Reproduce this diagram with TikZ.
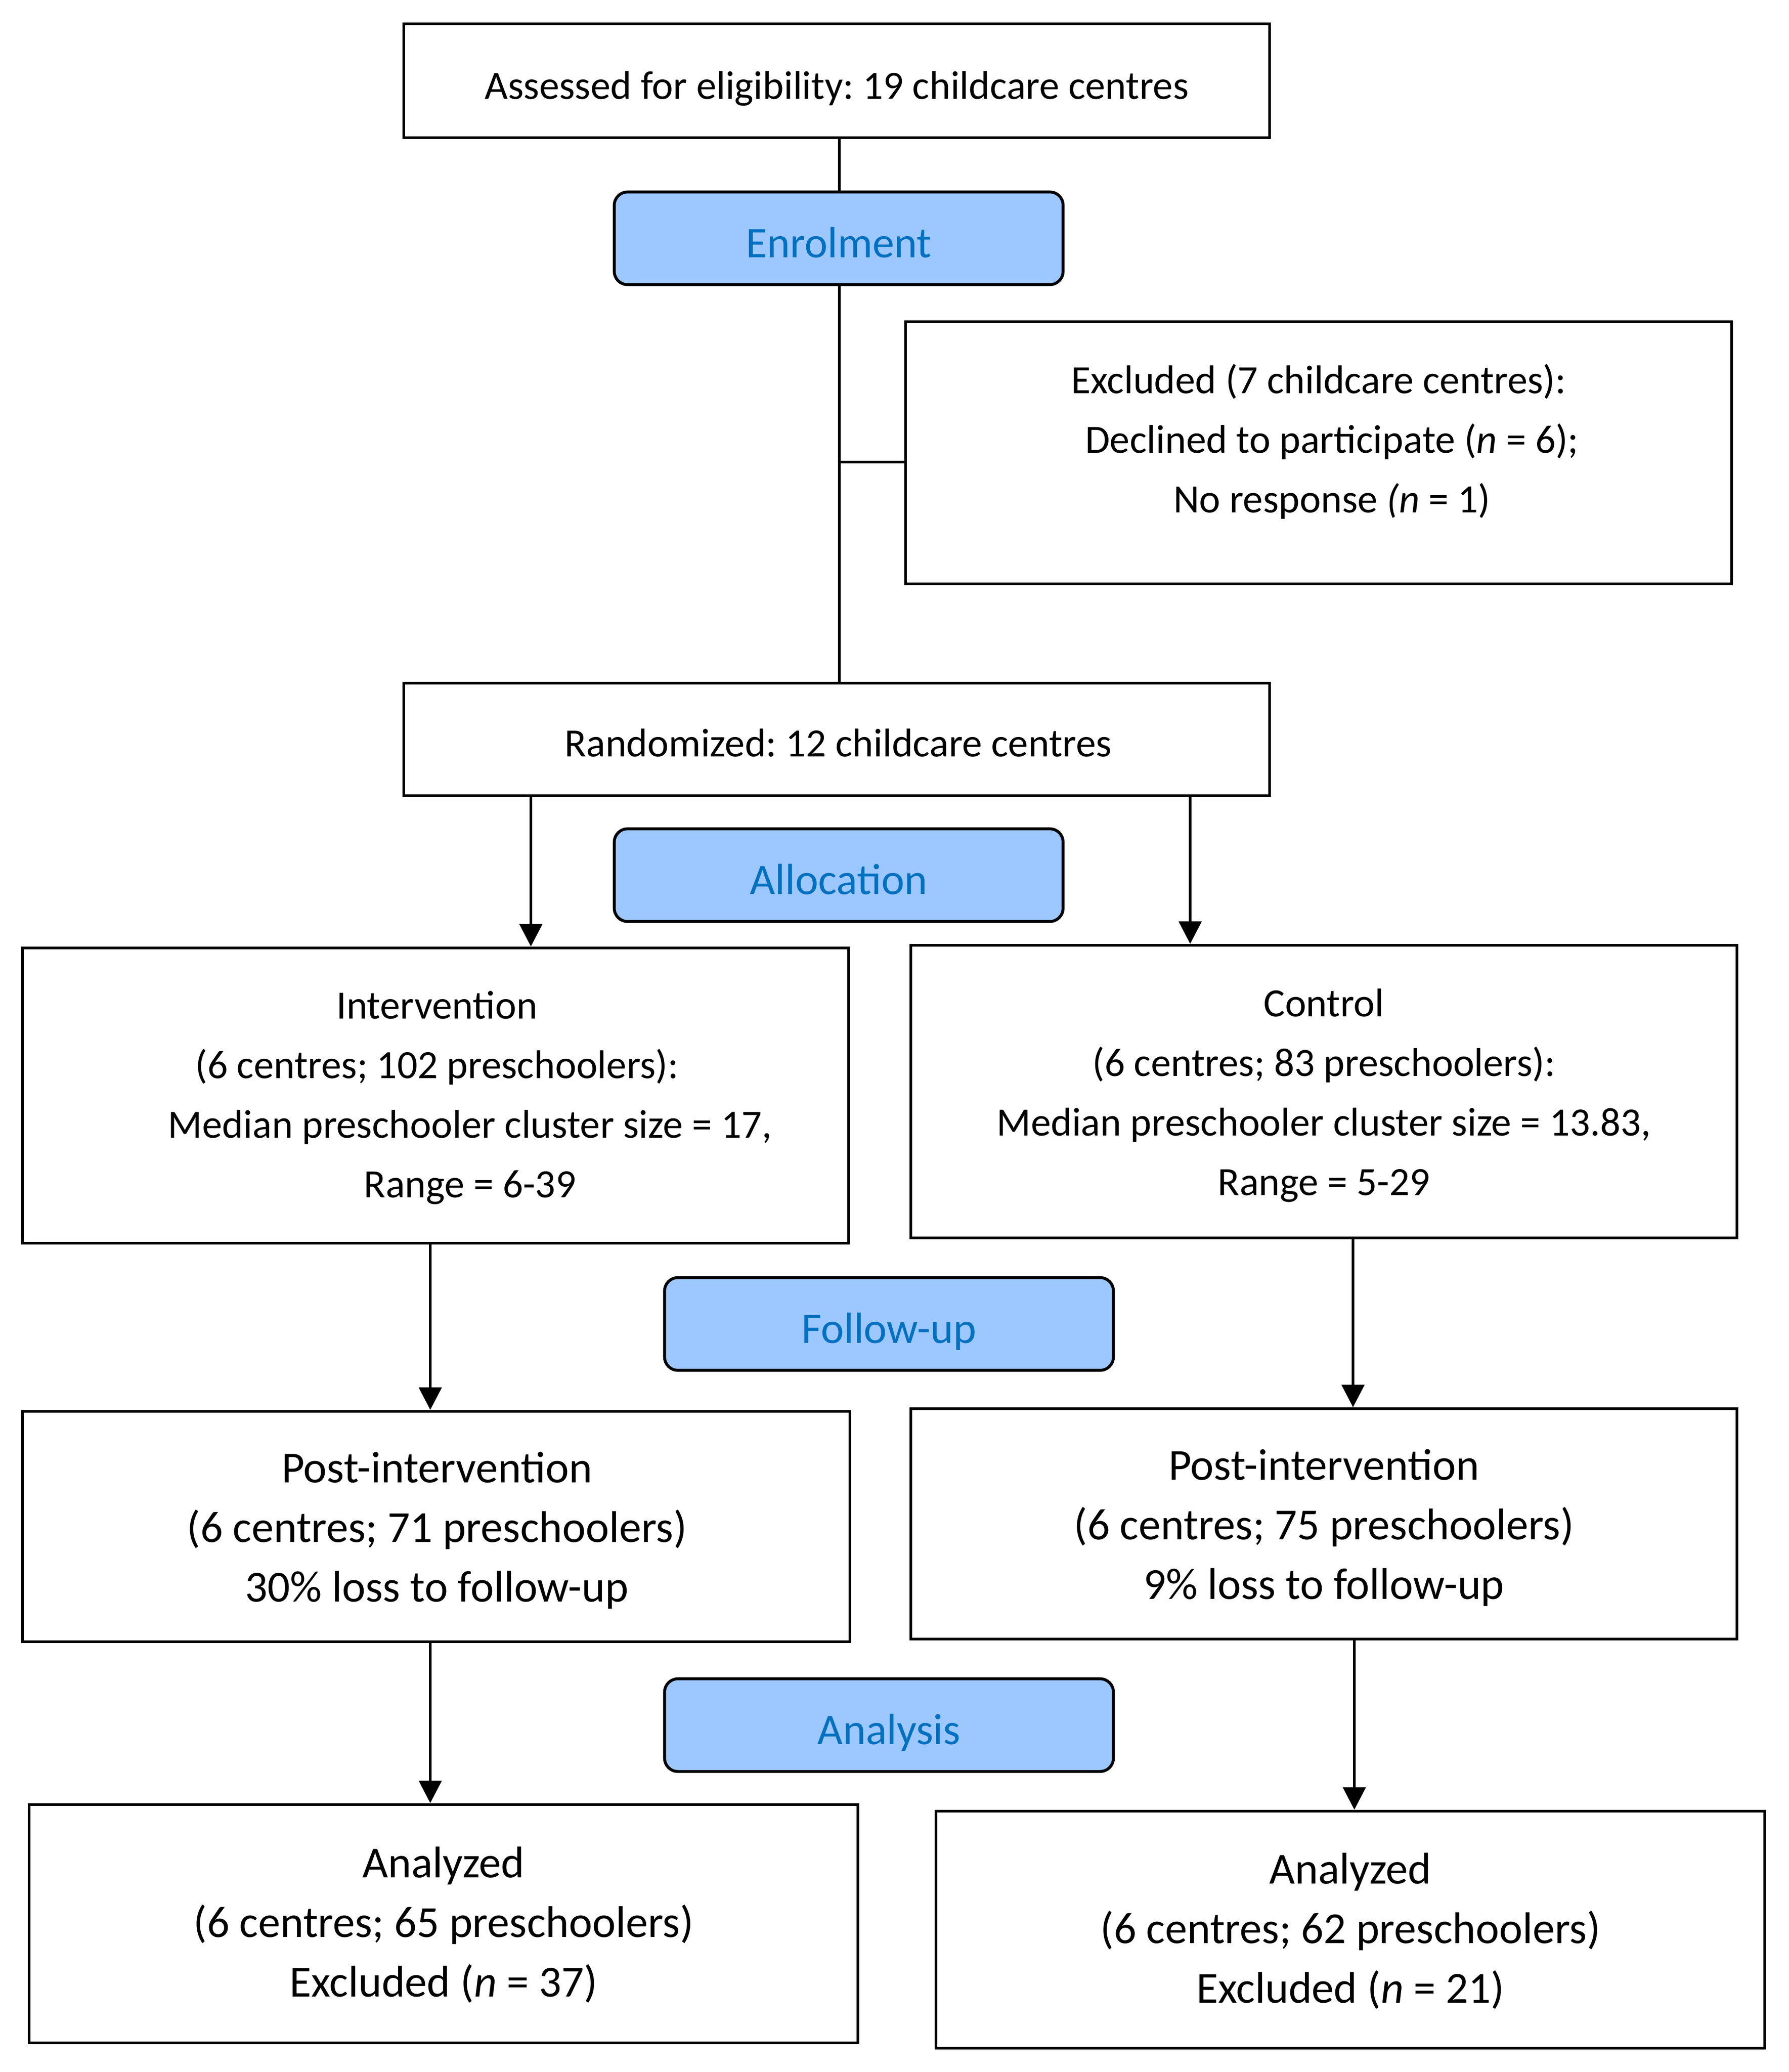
\documentclass[tikz,border=0pt]{standalone}
\usepackage{fontspec}
\setmainfont{Carlito}
\usetikzlibrary{arrows.meta}
\definecolor{lblfill}{RGB}{157,199,255}
\definecolor{lbltext}{RGB}{0,112,192}
\frenchspacing
\begin{document}
\begin{tikzpicture}[x=1pt,y=-1pt,
 box/.style={draw,line width=2.2pt,rectangle,inner sep=0pt},
 lbl/.style={draw,line width=2.2pt,fill=lblfill,rounded corners=10pt,text=lbltext,font=\fontsize{33}{40}\selectfont,minimum width=339pt,minimum height=70pt,inner sep=0pt},
 txt/.style={align=center,font=\fontsize{30.3}{45}\selectfont,inner sep=0pt},
 txtb/.style={align=center,font=\fontsize{33.5}{45}\selectfont,inner sep=0pt},
 conn/.style={line width=1.7pt},
 arr/.style={line width=2.3pt,-{Triangle[length=17pt,width=17pt]}}]
\useasboundingbox[fill=white] (0,0) rectangle (1351,1565);

% boxes
\node[box,minimum width=654pt,minimum height=86pt] (top) at (632,61) {};
\node[lbl] (enrol) at (633.5,180) {\raisebox{-14.5pt}[0pt][0pt]{Enrolment}};
\node[box,minimum width=624pt,minimum height=198pt] (excl) at (996,342) {};
\node[box,minimum width=654pt,minimum height=85pt] (rand) at (632,558.5) {};
\node[lbl] (alloc) at (633.5,661) {\raisebox{-14.5pt}[0pt][0pt]{Allocation}};
\node[box,minimum width=624pt,minimum height=223pt] (interv) at (329,827.5) {};
\node[box,minimum width=624pt,minimum height=221pt] (ctrl) at (1000,824.5) {};
\node[lbl] (follow) at (671.5,1000) {\raisebox{-14.5pt}[0pt][0pt]{Follow-up}};
\node[box,minimum width=625pt,minimum height=174pt] (postL) at (329.5,1153) {};
\node[box,minimum width=624pt,minimum height=174pt] (postR) at (1000,1151) {};
\node[lbl] (analysis) at (671.5,1303) {\raisebox{-14.5pt}[0pt][0pt]{Analysis}};
\node[box,minimum width=626pt,minimum height=180pt] (anaL) at (335,1453) {};
\node[box,minimum width=626pt,minimum height=179pt] (anaR) at (1020,1457.5) {};

% texts
\node[txt] (toptx) at (632,67) {Assessed for eligibility: 19 childcare centres};
\node[txt] (excltx) at (996,333.5) {Excluded (7 childcare centres):\\\hspace*{20pt}Declined to participate (\textit{n} = 6);\\\hspace*{20pt}No response \textit{(n} = 1)};
\node[txt] (randtx) at (633,561) {Randomized: 12 childcare centres};
\node[txt] (intervtx) at (330,829) {Intervention\\(6 centres; 102 preschoolers):\\\hspace*{50pt}Median preschooler cluster size = 17,\\\hspace*{50pt}Range = 6-39};
\node[txt] (ctrltx) at (1000,827.5) {Control\\(6 centres; 83 preschoolers):\\Median preschooler cluster size = 13.83,\\Range = 5-29};
\node[txtb] (postLtx) at (330,1156) {Post-intervention\\(6 centres; 71 preschoolers)\\30\% loss to follow-up};
\node[txtb] (postRtx) at (1000,1154) {Post-intervention\\(6 centres; 75 preschoolers)\\9\% loss to follow-up};
\node[txtb] (anaLtx) at (335,1454) {Analyzed\\(6 centres; 65 preschoolers)\\Excluded (\textit{n} = 37)};
\node[txtb] (anaRtx) at (1020,1458.5) {Analyzed\\(6 centres; 62 preschoolers)\\Excluded (\textit{n} = 21)};

% connectors
\coordinate (spine) at (634,0);
\coordinate (jx) at (634,349);
\draw[conn] (top.south -| spine) -- (enrol.north -| spine);
\draw[conn] (enrol.south -| spine) -- (rand.north -| spine);
\draw[conn] (jx) -- (jx -| excl.west);

\coordinate (ax1) at (401,0);
\coordinate (ax2) at (899,0);
\coordinate (ax3) at (325,0);
\coordinate (ax4) at (1022,0);
\coordinate (ax5) at (325,0);
\coordinate (ax6) at (1023,0);
\draw[arr] (rand.south -| ax1) -- (interv.north -| ax1);
\draw[arr] (rand.south -| ax2) -- (ctrl.north -| ax2);
\draw[arr] (interv.south -| ax3) -- (postL.north -| ax3);
\draw[arr] (ctrl.south -| ax4) -- (postR.north -| ax4);
\draw[arr] (postL.south -| ax5) -- (anaL.north -| ax5);
\draw[arr] (postR.south -| ax6) -- (anaR.north -| ax6);
\end{tikzpicture}
\end{document}
